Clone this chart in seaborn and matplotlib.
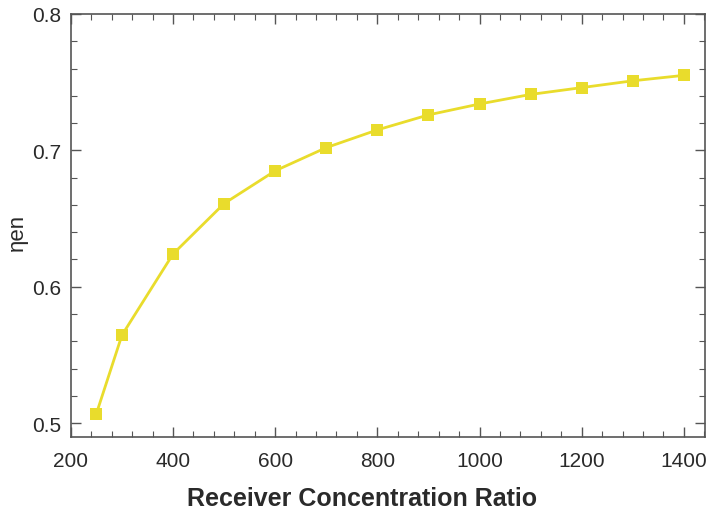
import numpy as np
import pandas as pd
import matplotlib
matplotlib.use("Agg")
import matplotlib.pyplot as plt
import seaborn as sns
from matplotlib.ticker import MultipleLocator

# data
concentration_ratio = [250, 300, 400, 500, 600, 700, 800, 900, 1000, 1100, 1200, 1300, 1400]
eta_en = [0.507, 0.5645, 0.624, 0.661, 0.685, 0.702, 0.715, 0.726, 0.734, 0.741, 0.746, 0.751, 0.755]

df = pd.DataFrame({"ratio": concentration_ratio, "eta": eta_en})

sns.set_style("ticks")
plt.rcParams["font.family"] = ["Liberation Sans", "DejaVu Sans"]

YELLOW = "#E9DC2C"
EDGE = "#555555"
TEXT = "#2a2a2a"

fig = plt.figure(figsize=(7.09, 5.10), dpi=100)
ax = fig.add_axes([0.100, 0.141, 0.894, 0.8296])

sns.lineplot(data=df, x="ratio", y="eta", ax=ax, color=YELLOW, linewidth=2,
             marker="s", markersize=8, markeredgewidth=0, markerfacecolor=YELLOW)

ax.set_xlim(200, 1441)
ax.set_ylim(0.4897, 0.8)
ax.xaxis.set_major_locator(MultipleLocator(200))
ax.xaxis.set_minor_locator(MultipleLocator(40))
ax.yaxis.set_major_locator(MultipleLocator(0.1))
ax.yaxis.set_minor_locator(MultipleLocator(0.02))
ax.tick_params(which="both", direction="in", top=True, right=True, color=EDGE)
ax.tick_params(which="major", length=7, width=1, labelsize=15, labelcolor=TEXT)
ax.tick_params(axis="x", which="major", pad=10)
ax.tick_params(axis="y", which="major", pad=7)
ax.tick_params(which="minor", length=4, width=0.8)
for s in ax.spines.values():
    s.set_color(EDGE)
    s.set_linewidth(1.2)

ax.set_xlabel("Receiver Concentration Ratio", fontsize=18, fontweight="bold", color=TEXT, labelpad=8)
ax.xaxis.set_label_coords(0.459, -0.115)
ax.set_ylabel("ηen", fontsize=16, color=TEXT, labelpad=3)
ax.yaxis.set_label_coords(-0.068, 0.487)

plt.savefig("out.png", dpi=100)
plt.close()
